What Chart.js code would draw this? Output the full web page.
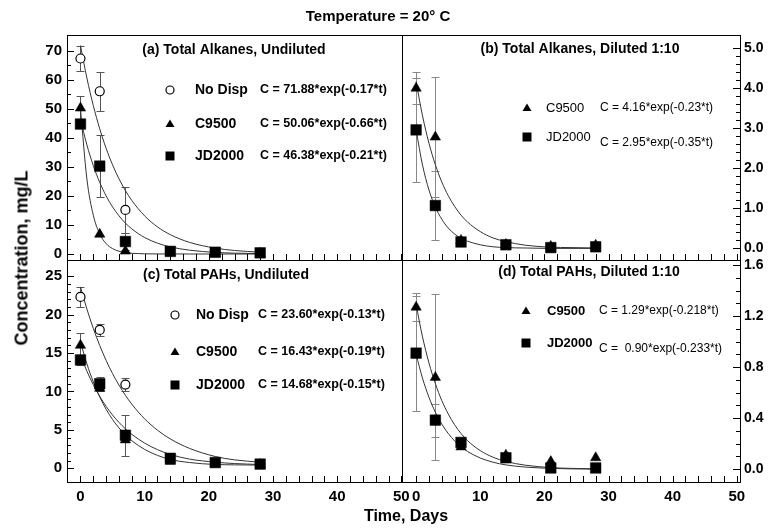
<!DOCTYPE html>
<html><head><meta charset="utf-8">
<script src="https://cdn.jsdelivr.net/npm/chart.js"></script>
<style>
html,body{margin:0;padding:0;background:#fff;}
#wrap{position:relative;width:768px;height:531px;overflow:hidden;background:#fff;}
#wrap canvas{position:absolute;left:0;top:0;}
.t{position:absolute;font-family:'Liberation Sans',Arial,sans-serif;font-weight:bold;color:#000;white-space:nowrap;transform:translate(-50%,-50%);}
#title{left:378px;top:15px;font-size:15px;}
#ytitle{left:22px;top:258px;font-size:18px;transform:translate(-50%,-50%) rotate(-90deg);}
#xtitle{left:406px;top:516px;font-size:16px;}
</style></head><body>
<div id="wrap">
<canvas id="ca" width="768" height="531"></canvas>
<canvas id="cb" width="768" height="531"></canvas>
<canvas id="cc" width="768" height="531"></canvas>
<canvas id="cd" width="768" height="531"></canvas>
<div class="t" id="title">Temperature = 20° C</div>
<div class="t" id="ytitle">Concentration, mg/L</div>
<div class="t" id="xtitle">Time, Days</div>
</div>
<script>
// ---- data ----
const days = [0, 3, 7, 14, 21, 28];
const xTicks = [0, 10, 20, 30, 40, 50];
const yTicksA = [0, 10, 20, 30, 40, 50, 60, 70];
const yTicksB = [0, 1, 2, 3, 4, 5];
const yTicksC = [0, 5, 10, 15, 20, 25];
const yTicksD = [0, 0.4, 0.8, 1.2, 1.6];

// (a) Total Alkanes, Undiluted
const alkUndNoDisp    = [67.4, 56.1, 15.2, null, null, null];
const alkUndNoDispErr = [4.2, 6.8, 7.8, 0, 0, 0];
const alkUndC9500     = [50.3, 6.8, 1.0, 0.4, 0.2, 0.2];
const alkUndC9500Err  = [4.3, 0, 0, 0, 0, 0];
const alkUndJD2000    = [44.8, 30.3, 4.3, 0.9, 0.6, 0.4];
const alkUndJD2000Err = [0, 10.7, 3.0, 0, 0, 0];
// (b) Total Alkanes, Diluted 1:10
const alkDilC9500     = [4.0, 2.78, 0.2, 0.1, 0.05, 0.08];
const alkDilC9500Err  = [0.4, 1.5, 0, 0, 0, 0];
const alkDilJD2000    = [2.96, 1.07, 0.16, 0.09, 0.02, 0.04];
const alkDilJD2000Err = [1.3, 0.86, 0, 0, 0, 0];
// (c) Total PAHs, Undiluted
const pahUndNoDisp    = [22.3, 18.0, 10.9, null, null, null];
const pahUndNoDispErr = [1.25, 0.75, 0.9, 0, 0, 0];
const pahUndC9500     = [16.0, 10.4, 3.7, 0.9, 0.6, 0.5];
const pahUndC9500Err  = [1.6, 0, 0, 0, 0, 0];
const pahUndJD2000    = [14.1, 11.0, 4.3, 1.3, 0.75, 0.55];
const pahUndJD2000Err = [0.6, 0.9, 2.7, 0, 0, 0];
// (d) Total PAHs, Diluted 1:10
const pahDilC9500     = [1.27, 0.72, 0.175, 0.11, 0.06, 0.09];
const pahDilC9500Err  = [0.11, 0.65, 0, 0, 0, 0];
const pahDilJD2000    = [0.91, 0.385, 0.21, 0.09, 0.01, 0.01];
const pahDilJD2000Err = [0.45, 0.13, 0, 0, 0, 0];

// fitted curves
const curveDays = [0, 1, 2, 3, 4, 5, 6, 7, 8, 10, 12, 14, 17, 21, 24, 28];
const fitAlkUndNoDisp = [71.88, 60.65, 51.16, 43.16, 36.41, 30.72, 25.92, 21.87, 18.45, 13.13, 9.34, 6.66, 4.00, 2.03, 1.21, 0.62];
const fitAlkUndC9500  = [50.06, 25.88, 13.37, 6.91, 3.57, 1.85, 0.96, 0.49, 0.25, 0.07, 0.02, 0.01, 0, 0, 0, 0];
const fitAlkUndJD2000 = [46.38, 37.60, 30.47, 24.70, 20.02, 16.23, 13.16, 10.66, 8.65, 5.68, 3.73, 2.45, 1.31, 0.56, 0.30, 0.13];
const fitAlkDilC9500  = [4.16, 3.31, 2.63, 2.09, 1.66, 1.32, 1.05, 0.83, 0.66, 0.42, 0.26, 0.17, 0.08, 0.03, 0.02, 0.01];
const fitAlkDilJD2000 = [2.95, 2.08, 1.46, 1.03, 0.73, 0.51, 0.36, 0.25, 0.18, 0.09, 0.04, 0.02, 0.01, 0, 0, 0];
const fitPahUndNoDisp = [23.60, 20.72, 18.20, 15.98, 14.03, 12.32, 10.82, 9.50, 8.34, 6.43, 4.96, 3.82, 2.59, 1.54, 1.10, 0.80];
const fitPahUndC9500  = [16.43, 13.59, 11.24, 9.29, 7.68, 6.35, 5.25, 4.35, 3.59, 2.46, 1.68, 1.15, 0.75, 0.50, 0.45, 0.42];
const fitPahUndJD2000 = [14.68, 12.64, 10.87, 9.36, 8.06, 6.93, 5.97, 5.14, 4.42, 3.28, 2.43, 1.80, 1.20, 0.80, 0.62, 0.50];
const fitPahDilC9500  = [1.29, 1.037, 0.834, 0.671, 0.539, 0.434, 0.349, 0.280, 0.225, 0.146, 0.094, 0.061, 0.032, 0.013, 0.007, 0.003];
const fitPahDilJD2000 = [0.90, 0.713, 0.565, 0.447, 0.354, 0.281, 0.222, 0.176, 0.140, 0.088, 0.055, 0.034, 0.017, 0.007, 0.003, 0.001];

const eqA = ['C = 71.88*exp(-0.17*t)', 'C = 50.06*exp(-0.66*t)', 'C = 46.38*exp(-0.21*t)'];
const eqB = ['C = 4.16*exp(-0.23*t)', 'C = 2.95*exp(-0.35*t)'];
const eqC = ['C = 23.60*exp(-0.13*t)', 'C = 16.43*exp(-0.19*t)', 'C = 14.68*exp(-0.15*t)'];
const eqD = ['C = 1.29*exp(-0.218*t)', 'C =  0.90*exp(-0.233*t)'];

// ---- styling ----
const SANS = "'Liberation Sans', Arial, sans-serif";
const STY = {
  circle: {pointStyle: 'circle', radius: 4.5, bg: '#fff'},
  triangle: {pointStyle: 'triangle', radius: 6, bg: '#000'},
  rect: {pointStyle: 'rect', radius: 7.5, bg: '#000'}
};

function pts(vals, errs) {
  return days.map((d, i) => ({x: d, y: vals[i], e: errs ? errs[i] : 0})).filter(p => p.y !== null);
}
function crv(vals) { return curveDays.map((d, i) => ({x: d, y: vals[i]})); }

function drawMarker(ctx, style, x, y, r) {
  ctx.beginPath();
  if (style === 'circle') { ctx.arc(x, y, r, 0, Math.PI * 2); ctx.fillStyle = '#fff'; ctx.fill(); ctx.lineWidth = 1.2; ctx.stroke(); return; }
  if (style === 'rect') { ctx.rect(x - r, y - r, 2 * r, 2 * r); }
  else { const h = r * 1.7; ctx.moveTo(x, y - h * 0.6); ctx.lineTo(x + r, y + h * 0.4); ctx.lineTo(x - r, y + h * 0.4); ctx.closePath(); }
  ctx.fillStyle = '#000'; ctx.fill();
}

const framePlugin = {
  id: 'frameTicks',
  afterDraw(chart, args, o) {
    const {ctx, chartArea: ca, scales} = chart;
    const xs = scales.x, ys = scales.y;
    ctx.save();
    ctx.strokeStyle = '#000'; ctx.lineWidth = 1;
    ctx.strokeRect(Math.round(ca.left) + 0.5, Math.round(ca.top) + 0.5, Math.round(ca.right - ca.left), Math.round(ca.bottom - ca.top));
    ctx.beginPath();
    for (let i = 0; i * 2 <= 50; i++) {
      const p = Math.round(xs.getPixelForValue(i * 2)) + 0.5;
      ctx.moveTo(p, ca.bottom); ctx.lineTo(p, ca.bottom - 6);
    }
    const maxT = o.yTicks[o.yTicks.length - 1];
    for (let i = 0; i * o.yMinor <= maxT + 1e-9; i++) {
      const v = i * o.yMinor;
      const major = o.yTicks.some(t => Math.abs(t - v) < 1e-9);
      const len = major ? 7 : 4;
      const p = Math.round(ys.getPixelForValue(v)) + 0.5;
      if (o.side === 'left') { ctx.moveTo(ca.left, p); ctx.lineTo(ca.left + len, p); }
      else { ctx.moveTo(ca.right, p); ctx.lineTo(ca.right - len, p); }
    }
    ctx.stroke();
    ctx.restore();
  }
};

const errPlugin = {
  id: 'errBars',
  beforeDatasetsDraw(chart, args, o) {
    const {ctx, scales: {x, y}} = chart;
    ctx.save(); ctx.strokeStyle = o.color; ctx.lineWidth = 1;
    chart.data.datasets.forEach(ds => {
      ds.data.forEach(pt => {
        if (!pt.e) return;
        const px = Math.round(x.getPixelForValue(pt.x)) + 0.5;
        const y1 = Math.round(y.getPixelForValue(pt.y + pt.e)) + 0.5;
        const y2 = Math.round(y.getPixelForValue(pt.y - pt.e)) + 0.5;
        ctx.beginPath();
        ctx.moveTo(px, y1); ctx.lineTo(px, y2);
        ctx.moveTo(px - 4, y1); ctx.lineTo(px + 4, y1);
        ctx.moveTo(px - 4, y2); ctx.lineTo(px + 4, y2);
        ctx.stroke();
      });
    });
    ctx.restore();
  }
};

const textPlugin = {
  id: 'panelText',
  afterDraw(chart, args, o) {
    const ctx = chart.ctx;
    ctx.save();
    ctx.fillStyle = '#000'; ctx.strokeStyle = '#000';
    ctx.textBaseline = 'middle';
    ctx.font = 'bold 14px ' + SANS; ctx.textAlign = 'center';
    ctx.fillText(o.title, o.titleX, o.titleY);
    ctx.textAlign = 'left';
    o.rows.forEach(r => {
      drawMarker(ctx, r.style, o.markerX, r.y, r.r);
      ctx.fillStyle = '#000';
      ctx.font = o.nameFont; ctx.fillText(r.name, o.nameX, r.y);
      ctx.font = o.eqFont; ctx.fillText(r.eq, o.eqX, r.ey || r.y);
    });
    ctx.restore();
  }
};

function makeChart(id, p) {
  const datasets = [];
  p.series.forEach(s => {
    const st = STY[s.style];
    datasets.push({data: pts(s.vals, s.errs), showLine: false, pointStyle: st.pointStyle, pointRadius: st.radius,
      pointBackgroundColor: st.bg, pointBorderColor: '#000', pointBorderWidth: s.style === 'circle' ? 1.2 : 0.5});
  });
  p.curves.forEach(c => {
    datasets.push({data: crv(c), showLine: true, pointRadius: 0, borderColor: '#333', borderWidth: 1,
      cubicInterpolationMode: 'monotone', fill: false});
  });
  return new Chart(document.getElementById(id), {
    type: 'scatter',
    data: {datasets},
    options: {
      responsive: false, animation: false, devicePixelRatio: 1,
      layout: {padding: p.pad},
      plugins: {legend: {display: false}, tooltip: {enabled: false},
        frameTicks: {side: p.yPos, yTicks: p.yTicks, yMinor: p.yMinor},
        errBars: {color: p.errColor},
        panelText: p.text},
      scales: {
        x: {type: 'linear', position: 'bottom', min: p.xMin, max: p.xMax,
          grid: {display: false, drawTicks: false}, border: {display: false},
          afterBuildTicks: s => { s.ticks = xTicks.map(v => ({value: v})); },
          afterFit: s => { s.height = p.xH; },
          ticks: {display: p.xShow, padding: 6, color: '#000', maxRotation: 0, autoSkip: false,
            font: {family: SANS, size: 15, weight: 'bold'}}},
        y: {type: 'linear', position: p.yPos, min: p.yMin, max: p.yMax,
          grid: {display: false, drawTicks: false}, border: {display: false},
          afterBuildTicks: s => { s.ticks = p.yTicks.map(v => ({value: v})); },
          afterFit: s => { s.width = p.yW; },
          ticks: {padding: p.yPos === 'left' ? 5 : 4, color: '#000', autoSkip: false,
            font: {family: SANS, size: p.yPos === 'left' ? 15 : 14, weight: 'bold'},
            callback: v => p.yDec ? Number(v).toFixed(p.yDec) : String(v)}}
      }
    },
    plugins: [errPlugin, framePlugin, textPlugin]
  });
}

const leftNameFont = 'bold 14px ' + SANS;
const leftEqFont = 'bold 12.5px ' + SANS;

makeChart('ca', {
  pad: {left: 0, top: 35, right: 366, bottom: 271}, yPos: 'left', yW: 67, xH: 0, xShow: false,
  xMin: -2.1, xMax: 50.1, yMin: -2.07, yMax: 75.5, yTicks: yTicksA, yMinor: 5, yDec: 0, errColor: '#555',
  series: [
    {vals: alkUndNoDisp, errs: alkUndNoDispErr, style: 'circle'},
    {vals: alkUndC9500, errs: alkUndC9500Err, style: 'triangle'},
    {vals: alkUndJD2000, errs: alkUndJD2000Err, style: 'rect'}],
  curves: [fitAlkUndNoDisp, fitAlkUndC9500, fitAlkUndJD2000],
  text: {title: '(a) Total Alkanes, Undiluted', titleX: 234, titleY: 50, markerX: 170, nameX: 195, eqX: 260,
    nameFont: leftNameFont, eqFont: leftEqFont,
    rows: [{style: 'circle', r: 4, y: 90, name: 'No Disp', eq: eqA[0]},
           {style: 'triangle', r: 4.5, y: 124, name: 'C9500', eq: eqA[1]},
           {style: 'rect', r: 4.5, y: 156, name: 'JD2000', eq: eqA[2]}]}
});

makeChart('cb', {
  pad: {left: 402, top: 35, right: 0, bottom: 271}, yPos: 'right', yW: 28, xH: 0, xShow: false,
  xMin: -2.2, xMax: 50.5, yMin: -0.29, yMax: 5.33, yTicks: yTicksB, yMinor: 0.2, yDec: 1, errColor: '#888',
  series: [
    {vals: alkDilC9500, errs: alkDilC9500Err, style: 'triangle'},
    {vals: alkDilJD2000, errs: alkDilJD2000Err, style: 'rect'}],
  curves: [fitAlkDilC9500, fitAlkDilJD2000],
  text: {title: '(b) Total Alkanes, Diluted 1:10', titleX: 580, titleY: 49, markerX: 527, nameX: 546, eqX: 600,
    nameFont: '13px ' + SANS, eqFont: '12px ' + SANS,
    rows: [{style: 'triangle', r: 4.5, y: 108, name: 'C9500', eq: eqB[0]},
           {style: 'rect', r: 4.5, y: 137, ey: 143, name: 'JD2000', eq: eqB[1]}]}
});

makeChart('cc', {
  pad: {left: 0, top: 260, right: 366, bottom: 19}, yPos: 'left', yW: 67, xH: 30, xShow: true,
  xMin: -2.1, xMax: 50.1, yMin: -1.78, yMax: 27.1, yTicks: yTicksC, yMinor: 1, yDec: 0, errColor: '#555',
  series: [
    {vals: pahUndNoDisp, errs: pahUndNoDispErr, style: 'circle'},
    {vals: pahUndC9500, errs: pahUndC9500Err, style: 'triangle'},
    {vals: pahUndJD2000, errs: pahUndJD2000Err, style: 'rect'}],
  curves: [fitPahUndNoDisp, fitPahUndC9500, fitPahUndJD2000],
  text: {title: '(c) Total PAHs, Undiluted', titleX: 226, titleY: 275, markerX: 175, nameX: 196, eqX: 258,
    nameFont: leftNameFont, eqFont: leftEqFont,
    rows: [{style: 'circle', r: 4, y: 315, name: 'No Disp', eq: eqC[0]},
           {style: 'triangle', r: 4.5, y: 352, name: 'C9500', eq: eqC[1]},
           {style: 'rect', r: 4.5, y: 385, name: 'JD2000', eq: eqC[2]}]}
});

makeChart('cd', {
  pad: {left: 402, top: 260, right: 0, bottom: 19}, yPos: 'right', yW: 28, xH: 30, xShow: true,
  xMin: -2.2, xMax: 50.5, yMin: -0.1, yMax: 1.64, yTicks: yTicksD, yMinor: 0.1, yDec: 1, errColor: '#888',
  series: [
    {vals: pahDilC9500, errs: pahDilC9500Err, style: 'triangle'},
    {vals: pahDilJD2000, errs: pahDilJD2000Err, style: 'rect'}],
  curves: [fitPahDilC9500, fitPahDilJD2000],
  text: {title: '(d) Total PAHs, Diluted 1:10', titleX: 589, titleY: 272, markerX: 526, nameX: 547, eqX: 599,
    nameFont: 'bold 13px ' + SANS, eqFont: '12px ' + SANS,
    rows: [{style: 'triangle', r: 4.5, y: 311, name: 'C9500', eq: eqD[0]},
           {style: 'rect', r: 4.5, y: 343, ey: 349, name: 'JD2000', eq: eqD[1]}]}
});
</script>
</body></html>
